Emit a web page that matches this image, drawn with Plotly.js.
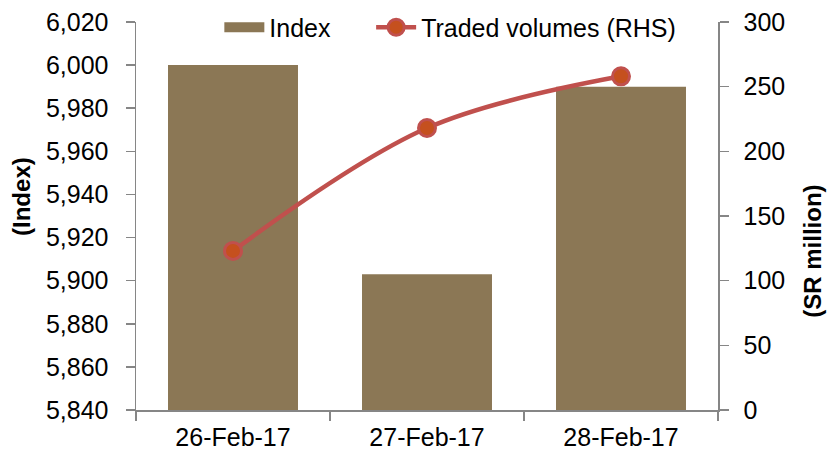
<!DOCTYPE html>
<html>
<head>
<meta charset="utf-8">
<script src="https://cdn.plot.ly/plotly-3.0.1.min.js"></script>
<style>html,body{margin:0;padding:0;background:#fff;}#chart{width:834px;height:457px;}</style>
</head>
<body>
<div id="chart"></div>
<script>
const categories = ["26-Feb-17", "27-Feb-17", "28-Feb-17"];
const indexValues = [6000, 5903, 5990];
const tradedVolumes = [123, 218, 258];
const leftTicks = [5840, 5860, 5880, 5900, 5920, 5940, 5960, 5980, 6000, 6020];
const rightTicks = [0, 50, 100, 150, 200, 250, 300];

const FONT = "Liberation Sans, Arial, sans-serif";
const axisGrey = "#868686";
const barColor = "#8B7755";

const traces = [
  {
    type: "bar",
    name: "Index",
    x: categories,
    y: indexValues,
    marker: {color: barColor},
    yaxis: "y",
    showlegend: false,
    legendgroup: "idx"
  },
  {
    // legend swatch for the Index bars (wide rectangle like the original)
    type: "scatter",
    mode: "lines",
    name: "Index",
    x: [null],
    y: [null],
    line: {color: barColor, width: 14},
    legendgroup: "idx",
    legend: "legend",
    showlegend: true,
    hoverinfo: "skip"
  },
  {
    type: "scatter",
    mode: "lines+markers",
    name: "Traded volumes (RHS)",
    x: categories,
    y: tradedVolumes,
    yaxis: "y2",
    legend: "legend2",
    line: {color: "#C0504D", width: 4.5, shape: "spline", smoothing: 1},
    marker: {color: "#C5501E", size: 17, line: {color: "#C0504D", width: 3}}
  }
];

const legendBase = {
  orientation: "h", xref: "container", yref: "container",
  xanchor: "left", y: 0.94, yanchor: "middle",
  bgcolor: "rgba(0,0,0,0)", font: {family: FONT, size: 25, color: "#000"},
  itemwidth: 40
};

const layout = {
  width: 834, height: 457,
  margin: {l: 136, r: 116, t: 22, b: 47, autoexpand: false},
  paper_bgcolor: "#fff", plot_bgcolor: "#fff",
  font: {family: FONT, size: 25, color: "#000"},
  bargap: 0.33,
  showlegend: true,
  legend: Object.assign({}, legendBase, {x: 0.263}),
  legend2: Object.assign({}, legendBase, {x: 0.445}),
  xaxis: {
    type: "category", range: [-0.5, 2.5],
    showline: true, linecolor: axisGrey, linewidth: 1.5,
    ticks: "outside", tickson: "boundaries", ticklen: 9, tickcolor: axisGrey, tickwidth: 1.5,
    ticklabelstandoff: 4,
    showgrid: false, zeroline: false,
    tickfont: {family: FONT, size: 25, color: "#000"}
  },
  yaxis: {
    range: [5840, 6020], tickvals: leftTicks, tickformat: ",d",
    showline: true, linecolor: axisGrey, linewidth: 1.5,
    ticks: "outside", ticklen: 9, tickcolor: axisGrey, tickwidth: 1.5,
    ticklabelstandoff: 12,
    showgrid: false, zeroline: false,
    tickfont: {family: FONT, size: 25, color: "#000"}
  },
  yaxis2: {
    overlaying: "y", side: "right", range: [0, 300], tickvals: rightTicks,
    showline: true, linecolor: axisGrey, linewidth: 1.5,
    ticks: "outside", ticklen: 9, tickcolor: axisGrey, tickwidth: 1.5,
    ticklabelstandoff: 10,
    showgrid: false, zeroline: false,
    tickfont: {family: FONT, size: 25, color: "#000"}
  },
  annotations: [
    {text: "<b>(Index)</b>", xref: "paper", yref: "paper", x: -0.197, y: 0.55,
     xanchor: "center", yanchor: "middle", textangle: -90, showarrow: false,
     font: {family: FONT, size: 24, color: "#000"}},
    {text: "<b>(SR million)</b>", xref: "paper", yref: "paper", x: 1.163, y: 0.41,
     xanchor: "center", yanchor: "middle", textangle: -90, showarrow: false,
     font: {family: FONT, size: 24, color: "#000"}}
  ]
};

Plotly.newPlot("chart", traces, layout, {displayModeBar: false, staticPlot: true});
</script>
</body>
</html>
